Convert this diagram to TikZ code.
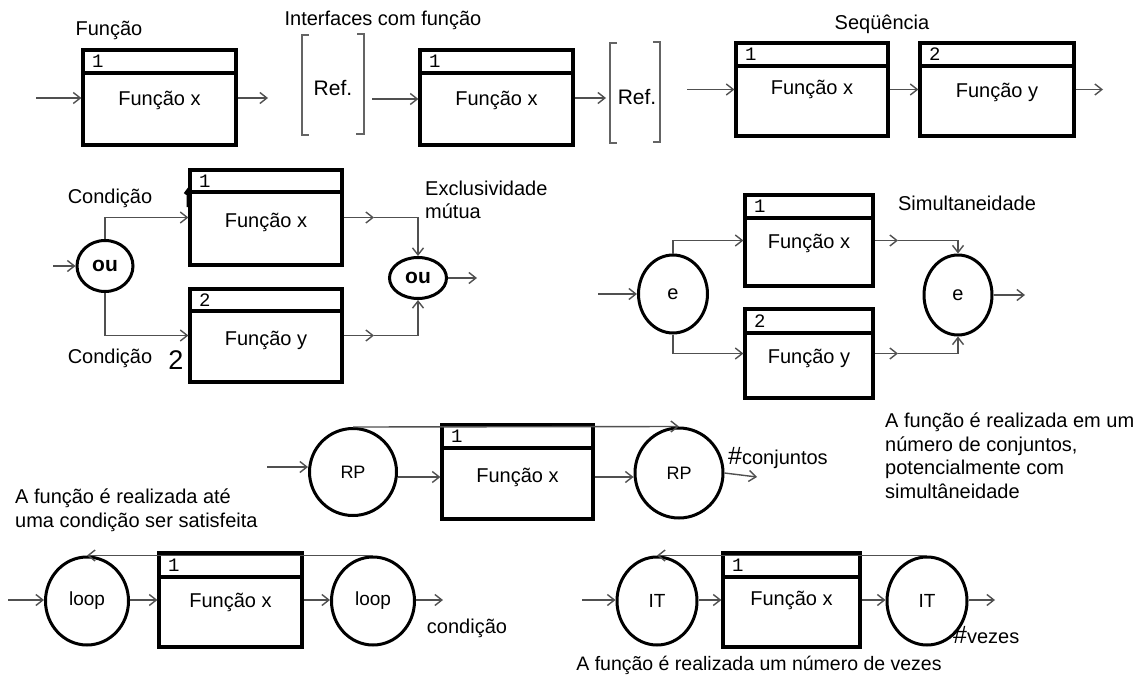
\documentclass[tikz,border=0pt]{standalone}
\usepackage{fontspec}
\setmainfont{Liberation Sans}
\newfontfamily\monof{Liberation Mono}
\usetikzlibrary{arrows.meta,fit,calc,shapes.geometric}
\definecolor{linec}{RGB}{80,80,80}
\definecolor{brkc}{RGB}{100,100,100}
\newcommand\fblk[9]{%
  \node[fbox, fit={(#2,#3) (#4,#5)}] (#1) {};
  \draw[hdr] (#2,#6) -- (#4,#6);
  \node[num, anchor=west] (#1n) at (#2+9,{(#3+#6)/2}) {#7};
  \node[txt] (#1t) at ({(#2+#4)/2},#9) {#8};
}
\begin{document}
\begin{tikzpicture}[x=1pt,y=-1pt,
  fbox/.style={draw, line width=3.2pt, fill=white, inner sep=0pt},
  hdr/.style={line width=3.2pt},
  num/.style={font=\monof\fontsize{19}{19}\selectfont, inner sep=0pt},
  txt/.style={font=\fontsize{20}{23}\selectfont, inner sep=0pt},
  lbl/.style={font=\fontsize{20}{23.5}\selectfont, inner sep=0pt, align=left},
  reftxt/.style={font=\fontsize{21}{21}\selectfont, inner sep=0pt},
  circ/.style={draw, ellipse, line width=3pt, fill=white, inner sep=0pt},
  arr/.style={draw=linec, line width=1.4pt, -{Straight Barb[length=7pt,width=11pt]}},
  brk/.style={draw=brkc, line width=1.5pt},
]
\useasboundingbox (0,0) rectangle (1146,680);

% ---------- Funcao
\node[lbl] (tFun) at (109,30) {Função};
\fblk{A}{83}{50}{236}{145}{73}{1}{Função x}{100}
\coordinate (a0) at (36,98);
\coordinate (a1) at (268,98);
\draw[arr] (a0) -- (a0 -| A.west);
\draw[arr] (A.east |- a1) -- (a1);

% ---------- Interfaces
\node[lbl] (tInt) at (383,20) {Interfaces com função};
\node[reftxt] (R1) at (333,88) {Ref.};
\draw[brk] (309,35) -- (302,35) -- (302,135) -- (309,135);
\draw[brk] (357,34) -- (364,34) -- (364,134) -- (356,134);
\fblk{B}{420}{50}{573}{145}{73}{1}{Função x}{100}
\coordinate (b0) at (372,99);
\draw[arr] (b0) -- (b0 -| B.west);
\node[reftxt] (R2) at (637,97) {Ref.};
\draw[brk] (617,43) -- (610,43) -- (610,143) -- (617,143);
\draw[brk] (653,42) -- (660,42) -- (660,142) -- (653,142);
\coordinate (b1) at (606,98);
\draw[arr] (B.east |- b1) -- (b1);

% ---------- Sequencia
\node[lbl] (tSeq) at (882,24) {Seqüência};
\fblk{S1}{736}{43}{888}{136}{66}{1}{Função x}{89}
\fblk{S2}{920}{43}{1074}{136}{66}{2}{Função y}{92}
\coordinate (s0) at (687,89.5);
\coordinate (s3) at (1103,89.5);
\draw[arr] (s0) -- (S1.west);
\draw[arr] (S1.east) -- (S2.west);
\draw[arr] (S2.east) -- (s3);

% ---------- Condicao / exclusividade mutua
\fblk{C1}{190}{170}{342}{265}{192}{1}{Função x}{222}
\fblk{C2}{190}{289}{342}{382}{311}{2}{Função y}{340}
\node[circ, minimum width=56, minimum height=51, font=\bfseries\fontsize{21}{21}\selectfont] (O1) at (105,266) {ou};
\node[circ, minimum width=57, minimum height=41, font=\bfseries\fontsize{21}{21}\selectfont] (O2) at (418,278) {ou};
\coordinate (c0) at (53,266);
\draw[arr] (c0) -- (O1);
\draw[arr] (O1.north) |- (C1.west);
\draw[arr] (O1.south) |- (C2.west);
\coordinate (c1) at (374,217.5);
\coordinate (c2) at (374,335.5);
\draw[arr] (C1.east) -- (c1);
\draw[arr] (c1) -| (O2.north);
\draw[arr] (C2.east) -- (c2);
\draw[arr] (c2) -| (O2.south);
\coordinate (c3) at (477,278);
\draw[arr] (O2) -- (c3);
\node[lbl, anchor=west] (tEx1) at (425,188) {Exclusividade};
\node[lbl, anchor=west] (tEx2) at (425,211) {mútua};
\node[lbl] (k1) at (110,198) {Condição};
\draw[line width=3pt] (185,194) -- (188,190) -- (188,207);
\node[lbl] (k2) at (110,358) {Condição};
\node[font=\fontsize{27}{27}\selectfont, inner sep=0pt] (k2n) at (176,360) {2};

% ---------- Simultaneidade
\fblk{E1}{745}{195}{873}{286}{218}{1}{Função x}{243}
\fblk{E2}{745}{309}{873}{398}{333}{2}{Função y}{358}
\node[circ, minimum width=69, minimum height=78, font=\fontsize{20}{20}\selectfont] (N1) at (673,294) {e};
\node[circ, minimum width=68, minimum height=80, font=\fontsize{20}{20}\selectfont] (N2) at (958,295) {e};
\coordinate (e0) at (598,294);
\draw[arr] (e0) -- (N1);
\draw[arr] (N1.north) |- (E1.west);
\draw[arr] (N1.south) |- (E2.west);
\coordinate (e1) at (898,240.5);
\coordinate (e2) at (898,353.5);
\draw[arr] (E1.east) -- (e1);
\draw[arr] (e1) -| (N2.north);
\draw[arr] (E2.east) -- (e2);
\draw[arr] (e2) -| (N2.south);
\coordinate (e3) at (1025,295);
\draw[arr] (N2) -- (e3);
\node[lbl] (tSim) at (967,203) {Simultaneidade};

% ---------- RP
\fblk{R}{442}{425}{593}{519}{448}{1}{Função x}{477}
\node[circ, minimum width=87, minimum height=87, font=\fontsize{18}{18}\selectfont] (P1) at (353,472) {RP};
\node[circ, minimum width=88, minimum height=90, font=\fontsize{18}{18}\selectfont] (P2) at (679,473) {RP};
\coordinate (p0) at (267,467);
\draw[arr] (p0) -- (p0 -| P1.west);
\draw[arr] (P1.east |- 0,477) -- (R.west |- 0,477);
\draw[arr] (R.east |- 0,477) -- (P2.west |- 0,477);
\draw[arr] (P1.north) -- (P2.north);
\coordinate (p3) at (757,477);
\draw[arr] (P2.east) -- (p3);
\node[lbl, anchor=west] (tConj) at (728,458) {{\fontsize{25}{25}\selectfont\#}conjuntos};
\node[lbl, anchor=north west] (tRP) at (885,413) {A função é realizada em um\\número de conjuntos,\\potencialmente com\\simultâneidade};

% ---------- loop
\node[lbl, anchor=west] (tLoop) at (15,510) {A função é realizada até\\uma condição ser satisfeita};
\fblk{L}{159}{553}{302}{647}{577}{1}{Função x}{602}
\node[circ, minimum width=83, minimum height=88, font=\fontsize{19}{19}\selectfont] (L1) at (87,601) {loop};
\node[circ, minimum width=83, minimum height=88, font=\fontsize{19}{19}\selectfont] (L2) at (373,601) {loop};
\coordinate (l0) at (8,600);
\draw[arr] (l0) -- (l0 -| L1.west);
\draw[arr] (L1.east |- 0,600) -- (L.west |- 0,600);
\draw[arr] (L.east |- 0,600) -- (L2.west |- 0,600);
\draw[arr] (L2.north) -- (L1.north);
\coordinate (l3) at (443,600);
\draw[arr] (L2.east |- l3) -- (l3);
\node[lbl] (tCond) at (467,628) {condição};

% ---------- IT
\fblk{I}{723}{553}{860}{647}{577}{1}{Função x}{600}
\node[circ, minimum width=80, minimum height=88, font=\fontsize{19}{19}\selectfont] (I1) at (657,601) {IT};
\node[circ, minimum width=80, minimum height=88, font=\fontsize{19}{19}\selectfont] (I2) at (927,601) {IT};
\coordinate (i0) at (582,600);
\draw[arr] (i0) -- (i0 -| I1.west);
\draw[arr] (I1.east |- 0,600) -- (I.west |- 0,600);
\draw[arr] (I.east |- 0,600) -- (I2.west |- 0,600);
\draw[arr] (I2.north) -- (I1.north);
\coordinate (i3) at (995,600);
\draw[arr] (I2.east |- i3) -- (i3);
\node[lbl, anchor=west] (tVez) at (953,635) {{\fontsize{25}{25}\selectfont\#}vezes};
\node[font=\fontsize{19.5}{19.5}\selectfont, inner sep=0pt] (tIT) at (759,665) {A função é realizada um número de vezes};
\end{tikzpicture}
\end{document}
